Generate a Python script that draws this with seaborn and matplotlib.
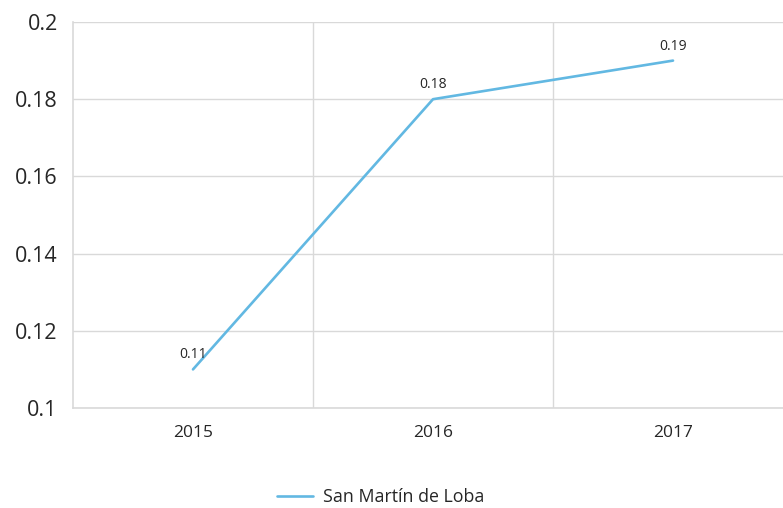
import matplotlib
matplotlib.use("Agg")
import matplotlib.pyplot as plt
import seaborn as sns
import pandas as pd
from matplotlib.ticker import FixedLocator

years = ["2015", "2016", "2017"]
values = [0.11, 0.18, 0.19]
series_name = "San Martín de Loba"
y_ticks = [0.1, 0.12, 0.14, 0.16, 0.18, 0.2]
y_tick_labels = ["0.1", "0.12", "0.14", "0.16", "0.18", "0.2"]

sns.set_theme(style="white")
plt.rcParams["font.family"] = ["Open Sans", "DejaVu Sans"]

df = pd.DataFrame({"year": years, "value": values, "series": series_name})

fig = plt.figure(figsize=(7.83, 5.08), dpi=100)
ax = fig.add_axes([73 / 783, 1 - 408 / 508, 1 - 73 / 783, (408 - 22) / 508])

line_color = "#62b8e2"
grid_color = "#d9d9d9"
text_color = "#262626"

sns.lineplot(data=df, x="year", y="value", hue="series", palette=[line_color],
             linewidth=1.9, ax=ax, legend=True)

ax.set_xlim(-0.5, -0.5 + (783 - 73) / 240)
ax.set_ylim(0.1, 0.2)

ax.set_yticks(y_ticks)
ax.set_yticklabels(y_tick_labels, fontsize=15.5, color=text_color)
ax.set_xticks(range(len(years)))
ax.set_xticklabels(years, fontsize=12.5, color=text_color)
ax.xaxis.set_minor_locator(FixedLocator([0.5, 1.5]))

ax.grid(True, axis="y", which="major", color=grid_color, linewidth=1)
ax.grid(True, axis="x", which="minor", color=grid_color, linewidth=1)
ax.grid(False, axis="x", which="major")
ax.tick_params(axis="both", which="both", length=0)
ax.tick_params(axis="y", pad=11)
ax.tick_params(axis="x", pad=12)

for side in ["top", "right"]:
    ax.spines[side].set_visible(False)
for side in ["left", "bottom"]:
    ax.spines[side].set_color(grid_color)
    ax.spines[side].set_linewidth(1.2)
ax.set_axisbelow(True)

ax.set_xlabel("")
ax.set_ylabel("")

for i, v in enumerate(values):
    ax.annotate(f"{v:.2f}", (i, v), xytext=(0, 5), textcoords="offset points",
                ha="center", va="bottom", fontsize=10, color=text_color)

handles, labels = ax.get_legend_handles_labels()
ax.legend(handles, labels, loc="center", bbox_to_anchor=(381 / 783, 1 - 497 / 508),
          bbox_transform=fig.transFigure, frameon=False, fontsize=12.8,
          handlelength=2.0, handletextpad=0.6, labelcolor=text_color)

fig.savefig("out.png", dpi=100)
